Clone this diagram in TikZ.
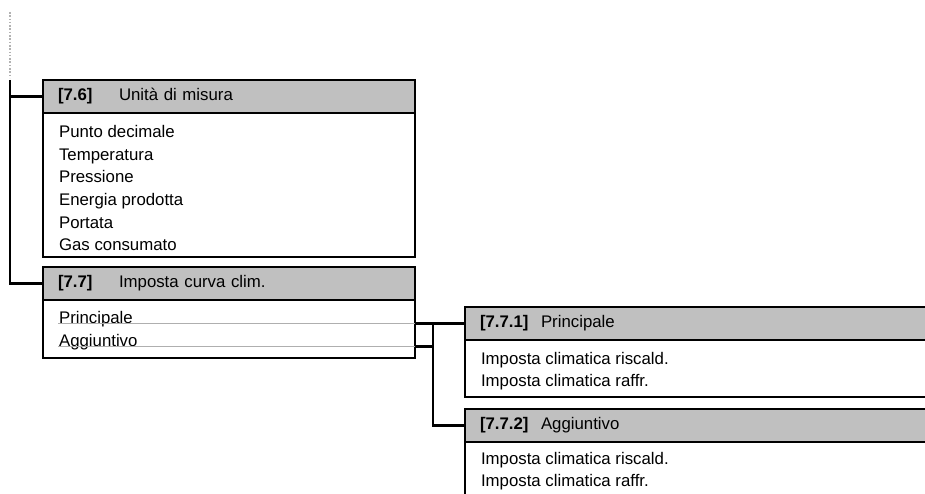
\documentclass[tikz,border=0pt]{standalone}
\usepackage{fontspec}
\setmainfont{Liberation Sans}
\usetikzlibrary{positioning}
\definecolor{hdrgray}{RGB}{192,192,192}
\definecolor{linkgray}{RGB}{175,175,175}
\newcommand{\menutag}[2]{\makebox[61pt][l]{\bfseries #1}#2}

\begin{document}
\begin{tikzpicture}[x=1pt,y=-1pt,line width=2.1pt,
  every node/.style={font=\fontsize{16.8}{20}\selectfont},
  menuhead/.style={draw,fill=hdrgray,anchor=north west,outer sep=0pt,
    minimum height=33pt,inner xsep=15pt,inner ysep=0pt,text width=#1,align=left},
  menubody/.style={draw,anchor=north west,outer sep=0pt,minimum width=#1},
  item/.style={anchor=base west,inner sep=0pt}]
\useasboundingbox (0,0) rectangle (925,494);

% menu 7.6
\node[menuhead=342pt] (h76) at (43,80) {\menutag{[7.6]}{Unità di misura}};
\node[menubody=372pt,minimum height=144pt] (b76) at (h76.south west) {};
\foreach \txt [count=\i] in {Punto decimale,Temperatura,Pressione,Energia prodotta,Portata,Gas consumato}
  \node[item] (u\i) at (58,{137.7+22.6*(\i-1)}) {\txt};

% menu 7.7
\node[menuhead=342pt] (h77) at (43,267) {\menutag{[7.7]}{Imposta curva clim.}};
\node[menubody=372pt,minimum height=58pt] (b77) at (h77.south west) {};
\node[item] (p1) at (58,323.5) {Principale};
\node[item] (p2) at (58,346.5) {Aggiuntivo};

% menu 7.7.1
\node[menuhead=440pt] (h771) at (465,307) {\menutag{[7.7.1]}{Principale}};
\node[menubody=470pt,minimum height=57pt] (b771) at (h771.south west) {};
\node[item] (r1) at (480,364.5) {Imposta climatica riscald.};
\node[item] (r2) at (480,386) {Imposta climatica raffr.};

% menu 7.7.2
\node[menuhead=440pt] (h772) at (465,409) {\menutag{[7.7.2]}{Aggiuntivo}};
\node[menubody=470pt,minimum height=80pt] (b772) at (h772.south west) {};
\node[item] (s1) at (480,464) {Imposta climatica riscald.};
\node[item] (s2) at (480,486) {Imposta climatica raffr.};

% tree lines
\draw[gray!60,line width=1.6pt,dash pattern=on 1.6pt off 1.7pt] (10,12) -- (10,78);
\coordinate (spine) at (10,80);
\draw (spine) |- (h77.west);
\draw (spine |- h76.west) -- (h76.west);

\draw[linkgray,line width=1.4pt] (p1.base west) -- (b77.east |- p1.base);
\draw[linkgray,line width=1.4pt] (p2.base west) -- (b77.east |- p2.base);
\coordinate (fork) at (433,323.5);
\draw (b77.east |- p1.base) -- (h771.west);
\draw (b77.east |- p2.base) -- (fork |- p2.base);
\draw (fork) |- (h772.west);
\end{tikzpicture}
\end{document}
